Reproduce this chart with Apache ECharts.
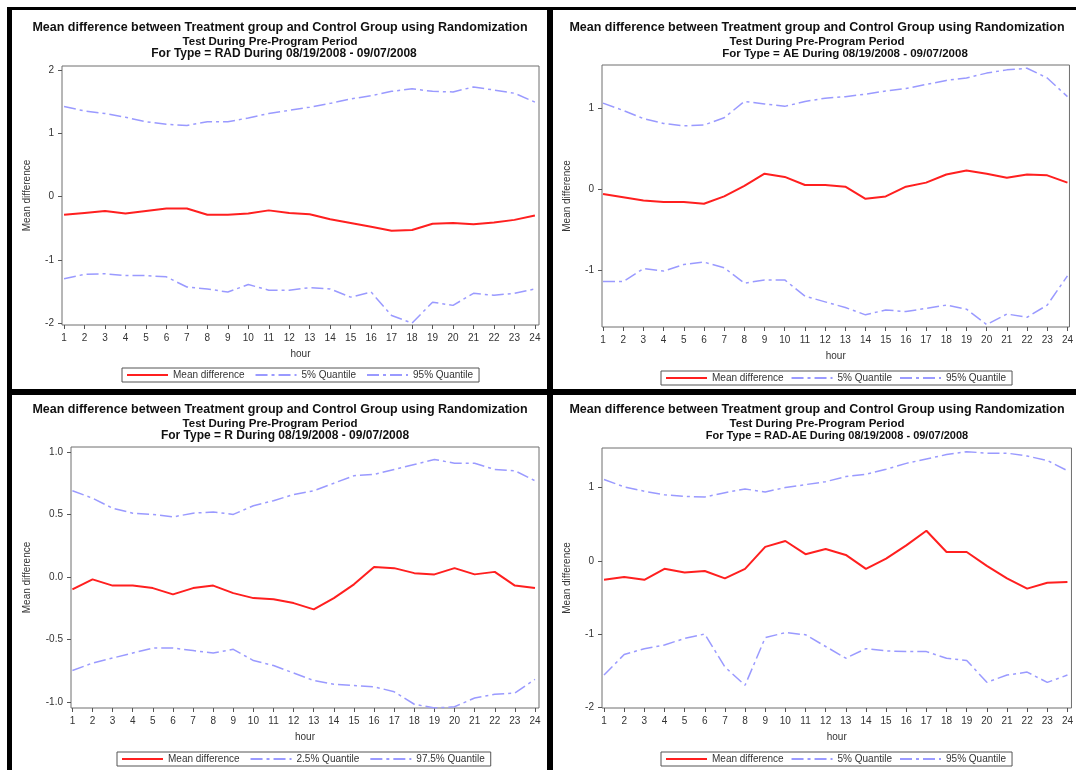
<!DOCTYPE html>
<html>
<head>
<meta charset="utf-8">
<script src="https://cdn.jsdelivr.net/npm/echarts@6/dist/echarts.min.js"></script>
<style>
  html, body { margin: 0; padding: 0; background: #fff; }
  #chart { width: 1076px; height: 770px; }
</style>
</head>
<body>
<div id="chart"></div>
<script>
// hour ticks
const hours = [1, 2, 3, 4, 5, 6, 7, 8, 9, 10, 11, 12, 13, 14, 15, 16, 17, 18, 19, 20, 21, 22, 23, 24]

// RAD
const radMean = [-0.29, -0.26, -0.23, -0.27, -0.23, -0.19, -0.19, -0.29, -0.29, -0.27, -0.22, -0.26, -0.28, -0.36, -0.42, -0.48, -0.54, -0.53, -0.43, -0.42, -0.44, -0.41, -0.37, -0.30]
const radLow = [-1.30, -1.23, -1.22, -1.25, -1.25, -1.27, -1.43, -1.46, -1.51, -1.39, -1.48, -1.48, -1.44, -1.46, -1.59, -1.51, -1.88, -2.00, -1.67, -1.72, -1.53, -1.56, -1.53, -1.46]
const radHigh = [1.42, 1.35, 1.31, 1.25, 1.18, 1.14, 1.12, 1.18, 1.18, 1.24, 1.31, 1.36, 1.41, 1.47, 1.54, 1.59, 1.66, 1.70, 1.66, 1.65, 1.73, 1.68, 1.63, 1.49]

// AE
const aeMean = [-0.06, -0.10, -0.14, -0.16, -0.16, -0.18, -0.09, 0.04, 0.19, 0.15, 0.05, 0.05, 0.03, -0.12, -0.09, 0.03, 0.08, 0.18, 0.23, 0.19, 0.14, 0.18, 0.17, 0.08]
const aeLow = [-1.14, -1.14, -0.98, -1.01, -0.93, -0.90, -0.97, -1.16, -1.12, -1.12, -1.32, -1.39, -1.46, -1.55, -1.49, -1.51, -1.47, -1.43, -1.48, -1.67, -1.54, -1.58, -1.43, -1.07]
const aeHigh = [1.06, 0.97, 0.87, 0.81, 0.78, 0.79, 0.88, 1.08, 1.05, 1.02, 1.08, 1.12, 1.14, 1.17, 1.21, 1.24, 1.29, 1.34, 1.37, 1.43, 1.47, 1.49, 1.37, 1.14]

// R
const rMean = [-0.10, -0.02, -0.07, -0.07, -0.09, -0.14, -0.09, -0.07, -0.13, -0.17, -0.18, -0.21, -0.26, -0.17, -0.06, 0.08, 0.07, 0.03, 0.02, 0.07, 0.02, 0.04, -0.07, -0.09]
const rLow = [-0.75, -0.69, -0.65, -0.61, -0.57, -0.57, -0.59, -0.61, -0.58, -0.67, -0.71, -0.77, -0.83, -0.86, -0.87, -0.88, -0.92, -1.02, -1.05, -1.04, -0.97, -0.94, -0.93, -0.82]
const rHigh = [0.69, 0.63, 0.55, 0.51, 0.50, 0.48, 0.51, 0.52, 0.50, 0.57, 0.61, 0.66, 0.69, 0.75, 0.81, 0.82, 0.86, 0.90, 0.94, 0.91, 0.91, 0.86, 0.85, 0.77]

// RAD-AE
const radAeMean = [-0.26, -0.22, -0.26, -0.11, -0.16, -0.14, -0.24, -0.11, 0.19, 0.27, 0.09, 0.16, 0.08, -0.11, 0.03, 0.21, 0.41, 0.12, 0.12, -0.07, -0.24, -0.38, -0.30, -0.29]
const radAeLow = [-1.56, -1.28, -1.20, -1.15, -1.06, -1.00, -1.45, -1.70, -1.05, -0.98, -1.01, -1.17, -1.33, -1.20, -1.23, -1.24, -1.24, -1.33, -1.36, -1.66, -1.56, -1.52, -1.66, -1.56]
const radAeHigh = [1.11, 1.01, 0.95, 0.90, 0.88, 0.87, 0.93, 0.98, 0.94, 1.00, 1.04, 1.08, 1.15, 1.18, 1.25, 1.33, 1.39, 1.45, 1.49, 1.47, 1.47, 1.43, 1.37, 1.23]

const yTicksRad = [-2, -1, 0, 1, 2]
const yTicksAe = [-1, 0, 1]
const yTicksR = [-1, -0.5, 0, 0.5, 1]
const yTicksRadAe = [-2, -1, 0, 1]

const titleLine1 = 'Mean difference between Treatment group and Control Group using Randomization'
const titleLine2 = 'Test During Pre-Program Period'
const period = '08/19/2008 - 09/07/2008'

const FONT = '"Liberation Sans", Arial, sans-serif'
const RED = '#ff1f1f'
const BLUE = '#9a9aff'

const panels = [
    {
        type: 'RAD', mean: radMean, low: radLow, high: radHigh,
        lowName: '5% Quantile', highName: '95% Quantile', yTicks: yTicksRad, decimals: 0,
        grid: { left: 62, top: 66, width: 477, height: 259 },
        xRange: [0.9, 24.2], yRange: [-2.03, 2.06], yNameGap: 30,
        titleX: [280, 270, 284], titleY: [21, 36, 48], line3Size: 12,
        legend: { left: 122, top: 368, gap: 10 },
    },
    {
        type: 'AE', mean: aeMean, low: aeLow, high: aeHigh,
        lowName: '5% Quantile', highName: '95% Quantile', yTicks: yTicksAe, decimals: 0,
        grid: { left: 602, top: 65, width: 472, height: 262 },
        xRange: [0.95, 24.1], yRange: [-1.70, 1.53], yNameGap: 30,
        titleX: [817, 817, 845], titleY: [21, 36, 48], line3Size: 11.5,
        legend: { left: 661, top: 371, gap: 7 },
    },
    {
        type: 'R', mean: rMean, low: rLow, high: rHigh,
        lowName: '2.5% Quantile', highName: '97.5% Quantile', yTicks: yTicksR, decimals: 1,
        grid: { left: 71, top: 447, width: 468, height: 261 },
        xRange: [0.93, 24.2], yRange: [-1.05, 1.04], yNameGap: 39,
        titleX: [280, 270, 285], titleY: [403, 418, 430], line3Size: 12,
        legend: { left: 117, top: 752, gap: 10 },
    },
    {
        type: 'RAD-AE', mean: radAeMean, low: radAeLow, high: radAeHigh,
        lowName: '5% Quantile', highName: '95% Quantile', yTicks: yTicksRadAe, decimals: 0,
        grid: { left: 602, top: 448, width: 473, height: 260 },
        xRange: [0.9, 24.2], yRange: [-2.01, 1.54], yNameGap: 30,
        titleX: [817, 817, 837], titleY: [403, 418, 430], line3Size: 11,
        legend: { left: 661, top: 752, gap: 7 },
    },
]

function pairs(values) {
    return hours.map((h, i) => [h, values[i]])
}

const titles = []
const grids = []
const xAxes = []
const yAxes = []
const legends = []
const series = []

panels.forEach((p, k) => {
    const lines = [titleLine1, titleLine2, 'For Type = ' + p.type + ' During ' + period]
    const sizes = [12.5, 11.5, p.line3Size]
    lines.forEach((text, j) => {
        titles.push({
            text: text,
            left: p.titleX[j],
            top: p.titleY[j],
            textAlign: 'center',
            padding: 0,
            textStyle: {
                fontFamily: FONT,
                fontWeight: 'bold',
                fontSize: sizes[j],
                color: '#111',
            },
        })
    })

    grids.push({
        left: p.grid.left,
        top: p.grid.top,
        width: p.grid.width,
        height: p.grid.height,
        show: true,
        borderColor: '#6e6e6e',
        borderWidth: 1,
        backgroundColor: 'transparent',
    })

    xAxes.push({
        gridIndex: k,
        type: 'value',
        min: p.xRange[0],
        max: p.xRange[1],
        name: 'hour',
        nameLocation: 'middle',
        nameGap: 24,
        nameTextStyle: { fontFamily: FONT, fontSize: 10, color: '#333' },
        axisLine: { show: false, onZero: false },
        axisTick: { show: true, length: 4, customValues: hours, lineStyle: { color: '#555' } },
        axisLabel: { customValues: hours, margin: 8, fontFamily: FONT, fontSize: 10, color: '#333' },
        splitLine: { show: false },
    })

    yAxes.push({
        gridIndex: k,
        type: 'value',
        min: p.yRange[0],
        max: p.yRange[1],
        name: 'Mean difference',
        nameLocation: 'middle',
        nameGap: p.yNameGap,
        nameTextStyle: { fontFamily: FONT, fontSize: 10, color: '#333' },
        axisLine: { show: false, onZero: false },
        axisTick: { show: true, length: 4, customValues: p.yTicks, lineStyle: { color: '#555' } },
        axisLabel: {
            customValues: p.yTicks,
            margin: 8,
            fontFamily: FONT,
            fontSize: 10,
            color: '#333',
            formatter: v => v.toFixed(p.decimals),
        },
        splitLine: { show: false },
    })

    legends.push({
        left: p.legend.left,
        top: p.legend.top,
        orient: 'horizontal',
        data: ['Mean difference', p.lowName, p.highName],
        itemWidth: 41,
        itemHeight: 8,
        itemGap: p.legend.gap,
        padding: [2, 6, 2, 4],
        borderColor: '#555',
        borderWidth: 1,
        selectedMode: false,
        itemStyle: { opacity: 0, borderWidth: 0 },
        textStyle: { fontFamily: FONT, fontSize: 10, color: '#333' },
    })

    const base = { type: 'line', xAxisIndex: k, yAxisIndex: k, symbol: 'none', silent: true }
    series.push(Object.assign({}, base, {
        name: 'Mean difference',
        data: pairs(p.mean),
        lineStyle: { color: RED, width: 2 },
        itemStyle: { color: RED },
        z: 3,
    }))
    series.push(Object.assign({}, base, {
        name: p.lowName,
        data: pairs(p.low),
        lineStyle: { color: BLUE, width: 1.5, type: [12, 4, 3, 4] },
        itemStyle: { color: BLUE },
    }))
    series.push(Object.assign({}, base, {
        name: p.highName,
        data: pairs(p.high),
        lineStyle: { color: BLUE, width: 1.5, type: [12, 4, 3, 4] },
        itemStyle: { color: BLUE },
    }))
})

// black frame round the four panels
const graphics = [
    { type: 'rect', z: -10, silent: true, shape: { x: 7, y: 7, width: 1069, height: 763 }, style: { fill: '#000' } },
    { type: 'rect', z: -9, silent: true, shape: { x: 12, y: 10, width: 535, height: 379 }, style: { fill: '#fff' } },
    { type: 'rect', z: -9, silent: true, shape: { x: 553, y: 10, width: 523, height: 379 }, style: { fill: '#fff' } },
    { type: 'rect', z: -9, silent: true, shape: { x: 12, y: 395, width: 535, height: 375 }, style: { fill: '#fff' } },
    { type: 'rect', z: -9, silent: true, shape: { x: 553, y: 395, width: 523, height: 375 }, style: { fill: '#fff' } },
]

const chart = echarts.init(document.getElementById('chart'), null, { renderer: 'canvas' })
chart.setOption({
    animation: false,
    backgroundColor: '#fff',
    title: titles,
    grid: grids,
    xAxis: xAxes,
    yAxis: yAxes,
    legend: legends,
    graphic: graphics,
    series: series,
})
</script>
</body>
</html>
